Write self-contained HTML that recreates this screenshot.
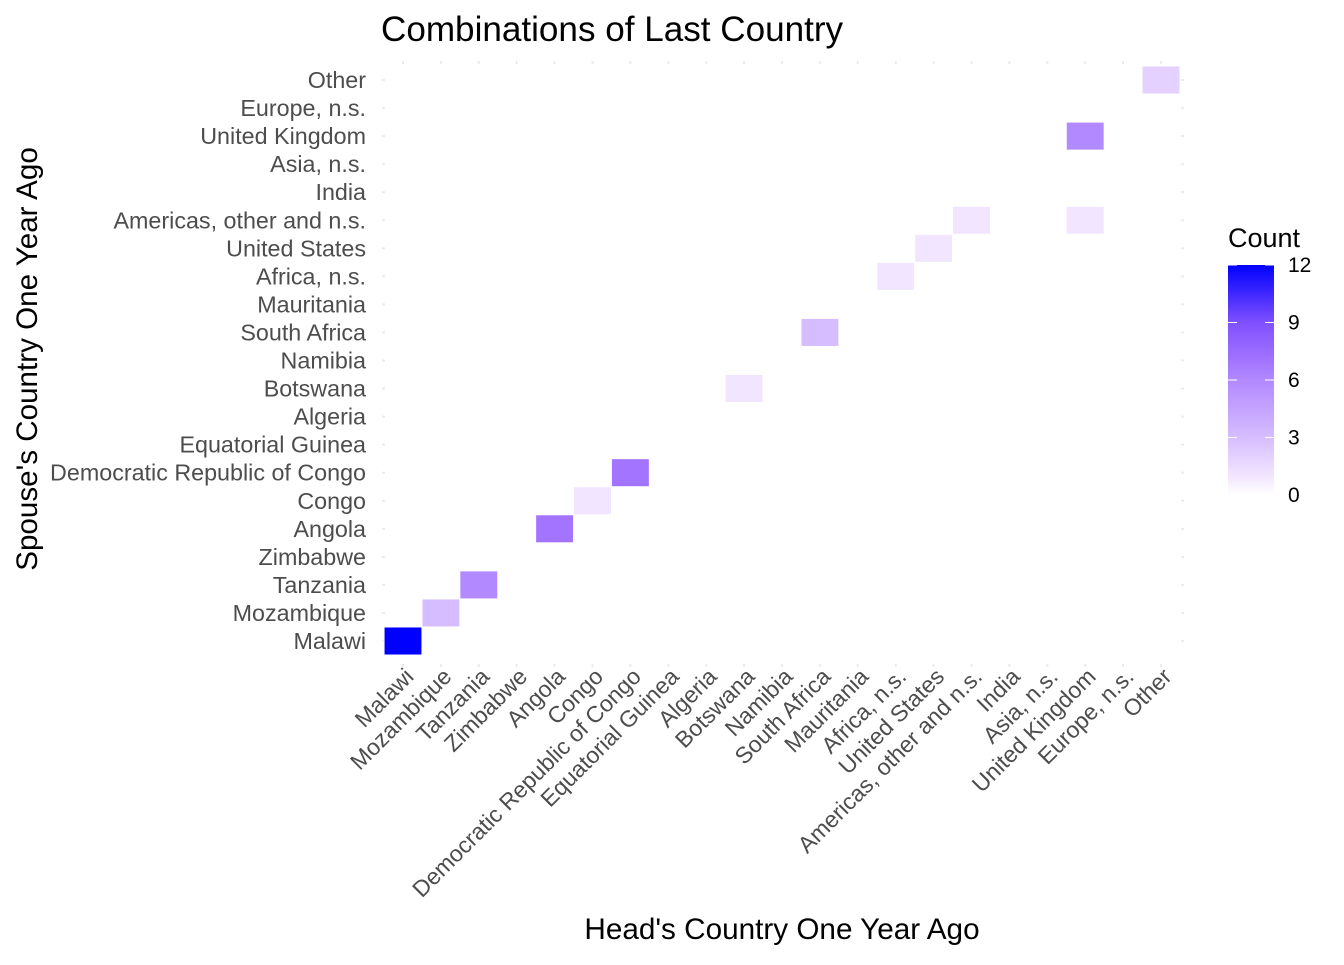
<!DOCTYPE html>
<html><head><meta charset="utf-8"><style>
body{margin:0;background:#fff;font-family:"Liberation Sans",Arial,sans-serif}
</style></head><body>
<svg id="c" width="1344" height="960" xmlns="http://www.w3.org/2000/svg">
<text x="381" y="41" font-size="35.1" fill="#000">Combinations of Last Country</text>
<text x="782" y="939" font-size="29.7" text-anchor="middle" fill="#000">Head's Country One Year Ago</text>
<text transform="translate(37,359) rotate(-90)" font-size="29.6" text-anchor="middle" fill="#000">Spouse's Country One Year Ago</text>
<g id="grid"></g><g id="cells"></g><g id="xl"></g><g id="yl"></g>
<g id="legend">
<text x="1228" y="247" font-size="27" fill="#000">Count</text>
<defs><linearGradient id="lg" x1="0" y1="1" x2="0" y2="0" gradientUnits="objectBoundingBox"><stop offset="0" stop-color="#ffffff"/><stop offset="0.0833" stop-color="#f2e5ff"/><stop offset="0.25" stop-color="#d6bdff"/><stop offset="0.5" stop-color="#b289ff"/><stop offset="0.5833" stop-color="#a374ff"/><stop offset="0.75" stop-color="#8050ff"/><stop offset="1" stop-color="#0000ff"/></linearGradient></defs>
<rect x="1228" y="265" width="46" height="230" fill="url(#lg)"/>
<g id="lt"></g>
</g>
</svg>
<script>
const cats=["Malawi","Mozambique","Tanzania","Zimbabwe","Angola","Congo","Democratic Republic of Congo","Equatorial Guinea","Algeria","Botswana","Namibia","South Africa","Mauritania","Africa, n.s.","United States","Americas, other and n.s.","India","Asia, n.s.","United Kingdom","Europe, n.s.","Other"];
const cellX=["Malawi","Mozambique","Tanzania","Angola","Congo","Democratic Republic of Congo","Botswana","South Africa","Africa, n.s.","United States","Americas, other and n.s.","United Kingdom","United Kingdom","Other"];
const cellY=["Malawi","Mozambique","Tanzania","Angola","Congo","Democratic Republic of Congo","Botswana","South Africa","Africa, n.s.","United States","Americas, other and n.s.","Americas, other and n.s.","United Kingdom","Other"];
const counts=[12,3,6,7,1,7,1,3,1,1,1,1,6,2];
const legendTicks=[0,3,6,9,12];
const NS="http://www.w3.org/2000/svg";
const x0=403,dx=37.9,y0=641,dy=28.05;
const xs=c=>x0+cats.indexOf(c)*dx, ys=c=>y0-cats.indexOf(c)*dy;
const stops=[[0,[255,255,255]],[1,[242,229,255]],[3,[214,189,255]],[6,[178,137,255]],[7,[163,116,255]],[9,[128,80,255]],[12,[0,0,255]]];
function col(v){for(let i=1;i<stops.length;i++){if(v<=stops[i][0]){const a=stops[i-1],b=stops[i],t=(v-a[0])/(b[0]-a[0]);return "rgb("+a[1].map((q,k)=>Math.round(q+(b[1][k]-q)*t)).join(",")+")";}}return "rgb(0,0,255)";}
function mk(t,at,p){const e=document.createElementNS(NS,t);for(const k in at)e.setAttribute(k,at[k]);document.getElementById(p).appendChild(e);return e;}
cats.forEach((c,i)=>{
 for(const gx of [383,1182]){const d=mk("rect",{x:gx-1,y:ys(c)-1,width:3,height:2,fill:"#ebebeb"},"grid");}
 for(const gy of [62,665]){const d=mk("rect",{x:xs(c)-1,y:gy-1,width:2,height:3,fill:"#ebebeb"},"grid");}
 const yl=mk("text",{x:366,y:ys(c)+8,"font-size":23.3,"text-anchor":"end",fill:"#4d4d4d"},"yl");yl.textContent=c;
 
 const xl=mk("text",{transform:`translate(${xs(c)+12},${678}) rotate(-45)`,"font-size":23,"text-anchor":"end",fill:"#4d4d4d"},"xl");xl.textContent=c;
 
});
counts.forEach((v,i)=>{
 const r=mk("rect",{x:xs(cellX[i])-dx/2,y:ys(cellY[i])-dy/2,width:dx,height:dy,fill:col(v),stroke:"#fff","stroke-width":1},"cells");
 
});
legendTicks.forEach(t=>{
 const y=495-t/12*230;
 for(const lx of [1228,1265]){const l=mk("rect",{x:lx,y:y-0.5,width:9,height:1,fill:"#fff"},"lt");}
 const tx=mk("text",{x:1288,y:y+7,"font-size":21,fill:"#000"},"lt");tx.textContent=t;
 
});
</script>
</body></html>
